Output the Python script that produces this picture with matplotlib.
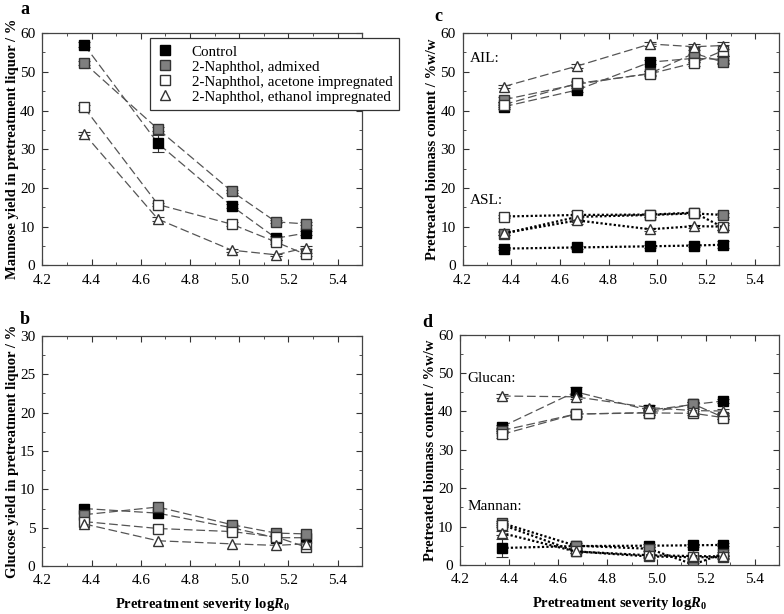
import numpy as np
import matplotlib.pyplot as plt
from matplotlib.ticker import MultipleLocator
from matplotlib.lines import Line2D

plt.rcParams['font.family'] = ['Liberation Serif', 'DejaVu Serif']
plt.rcParams['mathtext.fontset'] = 'custom'
plt.rcParams['mathtext.it'] = 'Liberation Serif:italic:bold'
plt.rcParams['mathtext.rm'] = 'Liberation Serif:bold'

severity = [4.37, 4.67, 4.97, 5.15, 5.27]
series_names = ["Control", "2-Naphthol, admixed",
                "2-Naphthol, acetone impregnated", "2-Naphthol, ethanol impregnated"]

# a: mannose yield in liquor
mannose_yield = [
    [57.0, 31.5, 15.3, 7.0, 8.3],
    [52.3, 35.2, 19.1, 11.2, 10.7],
    [40.8, 15.7, 10.6, 6.0, 2.8],
    [34.0, 11.9, 3.9, 2.7, 4.5],
]
mannose_err = [
    [0.6, 2.3, 0.6, 0.5, 0.5],
    [0.5, 0.5, 0.4, 0.4, 0.4],
    [0.6, 0.4, 0.5, 0.6, 0.4],
    [0.4, 0.5, 0.4, 0.3, 0.4],
]

# b: glucose yield in liquor
glucose_yield = [
    [7.5, 6.9, 5.0, 3.7, 3.7],
    [6.7, 7.7, 5.4, 4.3, 4.2],
    [5.8, 4.9, 4.5, 3.8, 2.5],
    [5.5, 3.3, 2.9, 2.7, 2.9],
]

# c: AIL and ASL content
ail = [
    [41.0, 45.3, 52.5, 53.5, 53.2],
    [42.8, 46.8, 49.6, 54.8, 52.5],
    [41.5, 47.0, 49.5, 52.3, 55.5],
    [46.2, 51.5, 57.2, 56.5, 56.8],
]
ail_err = [
    [0.5, 0.5, 0.5, 1.0, 0.8],
    [0.6, 0.5, 0.5, 1.5, 0.5],
    [0.6, 0.6, 0.6, 0.8, 1.5],
    [0.5, 0.4, 0.4, 0.8, 1.0],
]
asl = [
    [4.3, 4.6, 4.9, 5.1, 5.3],
    [8.2, 12.5, 13.0, 13.4, 13.0],
    [12.6, 13.0, 13.1, 13.6, 9.8],
    [8.3, 11.6, 9.3, 10.1, 10.0],
]
asl_err = [
    [0.3, 0.3, 0.4, 0.4, 0.9],
    [0.5, 0.6, 0.4, 0.4, 0.4],
    [0.3, 0.9, 0.5, 0.4, 0.6],
    [0.5, 1.0, 0.4, 0.4, 1.0],
]

# d: glucan and mannan content
glucan = [
    [36.0, 45.1, 40.3, 41.8, 42.7],
    [35.0, 39.3, 39.7, 41.9, 38.5],
    [34.0, 39.3, 39.6, 39.5, 38.4],
    [44.0, 43.8, 41.0, 40.2, 40.1],
]
glucan_err = [
    [0.5, 1.2, 0.5, 0.6, 0.4],
    [0.6, 0.6, 0.6, 0.6, 0.5],
    [1.0, 0.7, 0.5, 0.5, 0.5],
    [0.5, 0.5, 0.6, 0.5, 0.6],
]
mannan = [
    [4.4, 4.9, 5.0, 5.1, 5.2],
    [10.9, 5.0, 4.2, 0.1, 2.9],
    [10.5, 3.5, 2.2, 2.0, 2.0],
    [8.3, 3.5, 2.5, 2.3, 2.2],
]
mannan_err = [
    [2.3, 0.4, 0.4, 0.4, 0.4],
    [0.5, 0.8, 0.5, 0.3, 0.5],
    [0.5, 0.5, 0.4, 0.4, 0.4],
    [0.5, 0.5, 0.4, 0.4, 0.4],
]

styles = [
    dict(marker='s', mfc='black', mec='black'),
    dict(marker='s', mfc='#7f7f7f', mec='#333333'),
    dict(marker='s', mfc='white', mec='#333333'),
    dict(marker='^', mfc='white', mec='#333333'),
]


def draw(ax, data, err=None, dotted=False):
    for i, vals in enumerate(data):
        e = None if err is None else err[i]
        if dotted:
            ls = dict(linestyle=(0, (1, 1)), color='black', lw=1.6)
        else:
            ls = dict(linestyle=(0, (7, 3)), color='#555555', lw=0.9)
        ax.errorbar(severity, vals, yerr=e, capsize=4, ecolor='#333333',
                    elinewidth=0.8, capthick=0.8, markersize=7,
                    **ls, **styles[i])


def style_axes(ax, ymax, ymajor, yminor, ylabel, letter, letter_xy, xlabel=False):
    ax.set_xlim(4.2, 5.5)
    ax.set_ylim(0, ymax)
    ax.xaxis.set_major_locator(MultipleLocator(0.2))
    ax.xaxis.set_minor_locator(MultipleLocator(0.1))
    ax.yaxis.set_major_locator(MultipleLocator(ymajor))
    ax.yaxis.set_minor_locator(MultipleLocator(yminor))
    ax.xaxis.set_major_formatter(plt.FuncFormatter(lambda v, p: f"{v:.1f}"))
    ax.tick_params(which='both', direction='in', top=True, right=True,
                   labelsize=11, color='#333333')
    ax.tick_params(axis='x', pad=6)
    ax.tick_params(axis='y', pad=5)
    ax.tick_params(which='major', length=4)
    ax.tick_params(which='minor', length=2.5)
    for s in ax.spines.values():
        s.set_color('#444444')
        s.set_linewidth(0.9)
    ax.set_ylabel(ylabel, fontsize=10.5, fontweight='bold', labelpad=1)
    if xlabel:
        ax.set_xlabel(r"Pretreatment severity log$\mathit{R_0}$",
                      fontsize=10.5, fontweight='bold', labelpad=6)
    ax.text(letter_xy[0], letter_xy[1], letter, transform=ax.transAxes,
            fontsize=13, fontweight='bold', va='top', ha='left')


fig = plt.figure(figsize=(7.84, 6.14), dpi=100)
ax_a = fig.add_axes([0.054, 0.568, 0.408, 0.378])
ax_c = fig.add_axes([0.590, 0.568, 0.404, 0.378])
ax_b = fig.add_axes([0.054, 0.078, 0.408, 0.375])
ax_d = fig.add_axes([0.587, 0.080, 0.407, 0.375])

draw(ax_a, mannose_yield, mannose_err)
style_axes(ax_a, 60, 10, 5, "Mannose yield in pretreatment liquor / %", "a", (-0.07, 1.14))
handles = [Line2D([], [], linestyle='none', markersize=7, **st) for st in styles]
leg = ax_a.legend(handles, series_names, loc='upper left',
                  bbox_to_anchor=(0.338, 0.978), fontsize=10.8,
                  frameon=True, fancybox=False, edgecolor='#333333',
                  framealpha=1, handlelength=1.0, handletextpad=1.3,
                  borderpad=0.45, labelspacing=0.1, borderaxespad=0)
leg.get_frame().set_linewidth(0.9)
leg.set_zorder(5)

draw(ax_b, glucose_yield)
style_axes(ax_b, 30, 5, 2.5, "Glucose yield in pretreatment liquor / %", "b",
           (-0.07, 1.11), xlabel=True)

draw(ax_c, ail, ail_err)
draw(ax_c, asl, asl_err, dotted=True)
style_axes(ax_c, 60, 10, 5, "Pretreated biomass content / %w/w", "c", (-0.09, 1.11))
ax_c.text(4.23, 53.5, "AIL:", fontsize=11, va='center')
ax_c.text(4.23, 16.8, "ASL:", fontsize=11, va='center')

draw(ax_d, glucan, glucan_err)
draw(ax_d, mannan, mannan_err, dotted=True)
style_axes(ax_d, 60, 10, 5, "Pretreated biomass content / %w/w", "d",
           (-0.12, 1.09), xlabel=True)
ax_d.text(4.23, 48.5, "Glucan:", fontsize=11, va='center')
ax_d.text(4.23, 15.1, "Mannan:", fontsize=11, va='center')

fig.savefig("out.png", dpi=100)
